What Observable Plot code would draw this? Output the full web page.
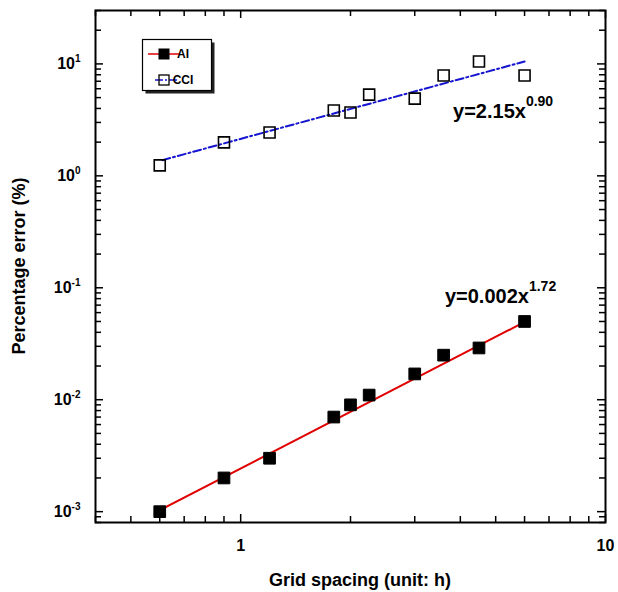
<!DOCTYPE html>
<html><head><meta charset="utf-8">
<script src="https://cdn.jsdelivr.net/npm/d3@7"></script>
<script src="https://cdn.jsdelivr.net/npm/@observablehq/plot@0.6"></script>
<style>
body{margin:0;background:#fff}
svg{font-family:"Liberation Sans",Arial,sans-serif}
</style>
</head><body><div id="chart"></div>
<script>
// Data
const gridSpacing = [0.6, 0.9, 1.2, 1.8, 2.0, 2.25, 3.0, 3.6, 4.5, 6.0];
const errorAI  = [0.001, 0.002, 0.003, 0.007, 0.009, 0.011, 0.017, 0.025, 0.029, 0.050];
const errorCCI = [1.24, 1.99, 2.44, 3.83, 3.68, 5.32, 4.90, 7.87, 10.5, 7.87];
// fitted power-law lines (end points)
const fitXAI  = [0.6, 6.0];
const fitYAI  = [0.00103, 0.0495];
const fitXCCI = [0.61, 6.0];
const fitYCCI = [1.38, 10.5];
// tick labels
const xTickLabels = [1, 10];
const yTickLabels = [0.001, 0.01, 0.1, 1, 10];
const seriesNames = ["AI", "CCI"];
const equationText = ["y=2.15x^0.90", "y=0.002x^1.72"];
const equationX = [3.82, 3.63];
const equationY = [3.78, 0.083];
const xTitle = "Grid spacing (unit: h)";
const yTitle = "Percentage error (%)";

const xDomain = [0.4, 10];
const yDomain = [0.0008, 30];

const aiData  = gridSpacing.map((x, i) => ({x, y: errorAI[i]}));
const cciData = gridSpacing.map((x, i) => ({x, y: errorCCI[i]}));
const fitAI  = fitXAI.map((x, i) => ({x, y: fitYAI[i]}));
const fitCCI = fitXCCI.map((x, i) => ({x, y: fitYCCI[i]}));
const eqData = equationText.map((t, i) => ({text: t, x: equationX[i], y: equationY[i]}));

const xAll = d3.scaleLog().domain(xDomain).ticks();
const yAll = d3.scaleLog().domain(yDomain).ticks();
const isDecade = d => Math.abs(Math.log10(d) - Math.round(Math.log10(d))) < 1e-9;
const xMaj = xAll.filter(isDecade), xMin = xAll.filter(d => !isDecade(d));
const yMaj = yAll.filter(isDecade), yMin = yAll.filter(d => !isDecade(d));

const W = 618, H = 592;
const mL = 95, mR = 13, mT = 10, mB = 70;
const fw = W - mL - mR, fh = H - mT - mB;
const minorLen = 6, majorLen = 8;
const tickStyle = {stroke: "black", strokeWidth: 1.5};

const chart = Plot.plot({
  width: W, height: H,
  marginLeft: mL, marginRight: mR, marginTop: mT, marginBottom: mB,
  x: {type: "log", domain: xDomain},
  y: {type: "log", domain: yDomain},
  style: {fontFamily: "Liberation Sans, Arial, sans-serif", color: "black", background: "white"},
  marks: [
    // inward ticks on all four sides
    Plot.tickX(xMin, {x: d => d, insetTop: fh - minorLen, ...tickStyle}),
    Plot.tickX(xMin, {x: d => d, insetBottom: fh - minorLen, ...tickStyle}),
    Plot.tickX(xMaj, {x: d => d, insetTop: fh - majorLen, ...tickStyle}),
    Plot.tickX(xMaj, {x: d => d, insetBottom: fh - majorLen, ...tickStyle}),
    Plot.tickY(yMin, {y: d => d, insetRight: fw - minorLen, ...tickStyle}),
    Plot.tickY(yMin, {y: d => d, insetLeft: fw - minorLen, ...tickStyle}),
    Plot.tickY(yMaj, {y: d => d, insetRight: fw - majorLen, ...tickStyle}),
    Plot.tickY(yMaj, {y: d => d, insetLeft: fw - majorLen, ...tickStyle}),
    // tick labels
    Plot.axisX(xTickLabels, {anchor: "bottom", tickSize: 0, tickPadding: 17, fontSize: 16, fontWeight: "bold", label: null, tickFormat: d => String(d)}),
    Plot.axisY(yTickLabels, {anchor: "left", tickSize: 0, tickPadding: 15, fontSize: 16, fontWeight: "bold", label: null,
      tickFormat: d => "10^" + Math.round(Math.log10(d))}),
    // fit lines
    Plot.line(fitAI, {x: "x", y: "y", stroke: "#e00000", strokeWidth: 2}),
    Plot.line(fitCCI, {x: "x", y: "y", stroke: "#1515d0", strokeWidth: 2, strokeDasharray: "8,3,2,3"}),
    // points
    Plot.dot(aiData, {x: "x", y: "y", symbol: "square", r: 6.6, fill: "black", stroke: "black", strokeWidth: 1}),
    Plot.dot(cciData, {x: "x", y: "y", symbol: "square", r: 6.2, fill: "none", stroke: "black", strokeWidth: 1.6}),
    // equations
    Plot.text(eqData, {x: "x", y: "y", text: "text", textAnchor: "start", fontSize: 20, fontWeight: "bold", fill: "black"}),
    Plot.frame({stroke: "black", strokeWidth: 2})
  ]
});

// superscripts
chart.querySelectorAll("text").forEach(t => {
  const s = t.textContent;
  if (!s.includes("^")) return;
  const [base, exp] = s.split("^");
  const isEq = base.startsWith("y=");
  t.textContent = base;
  const ts = document.createElementNS("http://www.w3.org/2000/svg", "tspan");
  ts.setAttribute("font-size", isEq ? 14 : 10);
  ts.setAttribute("dy", isEq ? -12 : -7);
  ts.textContent = exp;
  t.appendChild(ts);
});

const svg = d3.select(chart);
// axis titles
svg.append("text").attr("x", 360).attr("y", 586).attr("text-anchor", "middle")
  .attr("font-size", 18).attr("font-weight", "bold").text(xTitle);
svg.append("text").attr("transform", "translate(25,266) rotate(-90)").attr("text-anchor", "middle")
  .attr("font-size", 18).attr("font-weight", "bold").text(yTitle);

// legend
const lg = svg.append("g");
lg.append("rect").attr("x", 145.5).attr("y", 42.5).attr("width", 69).attr("height", 51).attr("fill", "#222");
lg.append("rect").attr("x", 142.5).attr("y", 39.5).attr("width", 69).attr("height", 51).attr("fill", "white").attr("stroke", "black").attr("stroke-width", 1.2);
const rowY = [54, 80];
lg.append("line").attr("x1", 148).attr("x2", 179).attr("y1", rowY[0]).attr("y2", rowY[0]).attr("stroke", "#e00000").attr("stroke-width", 1.5);
lg.append("rect").attr("x", 158.5).attr("y", rowY[0] - 5.5).attr("width", 11).attr("height", 11).attr("fill", "black");
lg.append("line").attr("x1", 155).attr("x2", 179).attr("y1", rowY[1]).attr("y2", rowY[1]).attr("stroke", "#1515d0").attr("stroke-width", 1.5).attr("stroke-dasharray", "8,2,2,2");
lg.append("rect").attr("x", 159).attr("y", rowY[1] - 5).attr("width", 10).attr("height", 10).attr("fill", "none").attr("stroke", "black").attr("stroke-width", 1.3);
seriesNames.forEach((n, i) => {
  lg.append("text").attr("x", 183).attr("y", rowY[i]).attr("dy", "0.35em")
    .attr("font-size", 12).attr("font-weight", "bold").text(n);
});

document.getElementById("chart").appendChild(chart);
</script>
</body></html>
